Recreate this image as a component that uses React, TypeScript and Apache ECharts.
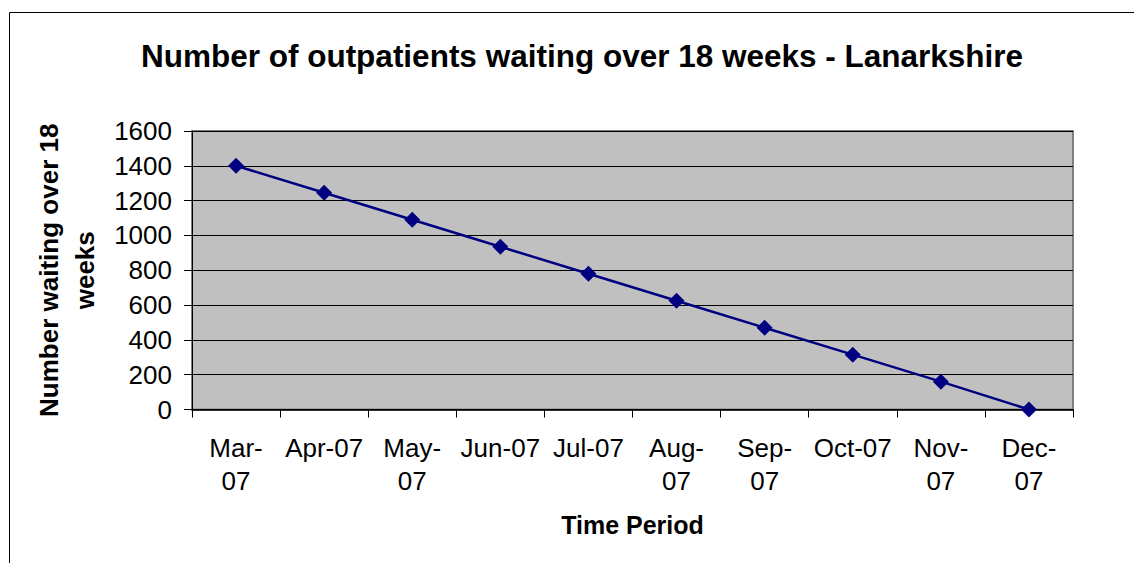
import React, { useEffect, useRef } from "react";
import * as echarts from "echarts";

const categories = ["Mar-07", "Apr-07", "May-07", "Jun-07", "Jul-07", "Aug-07", "Sep-07", "Oct-07", "Nov-07", "Dec-07"];
const tickLabels = ["Mar-\n07", "Apr-07", "May-\n07", "Jun-07", "Jul-07", "Aug-\n07", "Sep-\n07", "Oct-07", "Nov-\n07", "Dec-\n07"];
const waiting = [1400, 1245, 1090, 935, 780, 625, 470, 315, 160, 0];

const FONT = "'Liberation Sans', Arial, sans-serif";

export default function App() {
  const ref = useRef<HTMLDivElement>(null);
  useEffect(() => {
    if (!ref.current) return;
    const chart = echarts.init(ref.current, null, { renderer: "svg" });
    chart.setOption({
      animation: false,
      backgroundColor: "#ffffff",
      textStyle: { fontFamily: FONT, color: "#000" },
      title: {
        text: "Number of outpatients waiting over 18 weeks - Lanarkshire",
        left: 577,
        top: 35,
        textAlign: "center",
        textStyle: { fontFamily: FONT, fontSize: 31.5, fontWeight: "bold", color: "#000" },
      },
      graphic: [
        {
          type: "rect",
          shape: { x: 9.5, y: 12.5, width: 1300, height: 700 },
          style: { fill: "none", stroke: "#000", lineWidth: 1 },
          silent: true,
          z: -1,
        },
      ],
      grid: {
        left: 192,
        right: 61,
        top: 131,
        bottom: 153.5,
        show: true,
        backgroundColor: "#C0C0C0",
        borderColor: "#808080",
        borderWidth: 2,
      },
      xAxis: {
        type: "category",
        data: categories,
        boundaryGap: true,
        name: "Time Period",
        nameLocation: "middle",
        nameGap: 103,
        nameTextStyle: { fontFamily: FONT, fontSize: 25, fontWeight: "bold", color: "#000" },
        axisLine: { show: true, lineStyle: { color: "#000", width: 1.5 } },
        axisTick: { show: true, length: 8, alignWithLabel: false, lineStyle: { color: "#000" } },
        axisLabel: {
          margin: 22,
          fontFamily: FONT,
          fontSize: 26,
          lineHeight: 33,
          color: "#000",
          interval: 0,
          formatter: (_v: string, i: number) => tickLabels[i],
        },
        splitLine: { show: false },
      },
      yAxis: {
        type: "value",
        min: 0,
        max: 1600,
        interval: 200,
        name: "Number waiting over 18\nweeks",
        nameLocation: "middle",
        nameGap: 88,
        nameRotate: 90,
        nameTextStyle: { fontFamily: FONT, fontSize: 26, fontWeight: "bold", color: "#000", lineHeight: 36 },
        axisLine: { show: true, lineStyle: { color: "#000", width: 1 } },
        axisTick: { show: true, length: 8, lineStyle: { color: "#000" } },
        axisLabel: {
          margin: 20,
          fontFamily: FONT,
          fontSize: 26,
          color: "#000",
          formatter: (v: number) => String(v),
        },
        splitLine: { show: true, lineStyle: { color: "#000", width: 1 } },
      },
      series: [
        {
          type: "line",
          data: waiting,
          symbol: "diamond",
          symbolSize: 16,
          itemStyle: { color: "#000080" },
          lineStyle: { color: "#000080", width: 2.5 },
        },
      ],
    });
    return () => chart.dispose();
  }, []);
  return <div ref={ref} style={{ position: "fixed", left: 0, top: 0, width: 1134, height: 563 }} />;
}
